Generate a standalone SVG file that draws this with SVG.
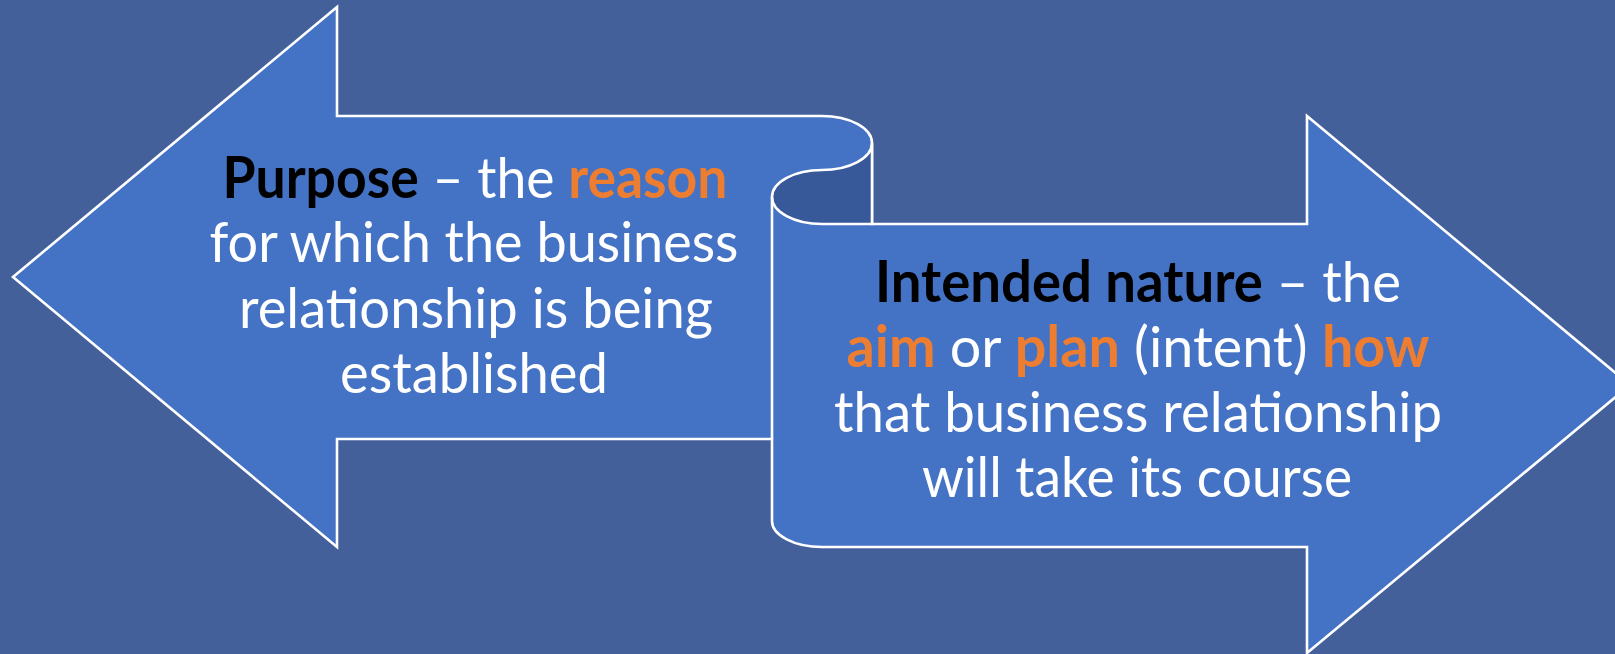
<svg xmlns="http://www.w3.org/2000/svg" width="1615" height="654" viewBox="0 0 1615 654">
<style>
.bg{fill:#44609B}
.shape{fill:#4472C4;stroke:#FFFFFF;stroke-width:2.6;stroke-linejoin:miter}
.fold{fill:#37599A;stroke:#FFFFFF;stroke-width:2.6}
.line{fill:none;stroke:#FFFFFF;stroke-width:2.6}
.t{font-family:Lato,"Open Sans","Liberation Sans",sans-serif;font-size:57px;fill:#FFFFFF;text-anchor:middle}
.k{font-weight:bold;fill:#000000}
.o{font-weight:bold;fill:#ED7D31}
</style>
<rect class="bg" x="0" y="0" width="1615" height="654"/>
<g id="ribbon">
<path class="shape" d="M13,277 L337,7 L337,116 L822,116 A50,27 0 0 1 872,143 L872,224 L1307,224 L1307,116 L1630,385 L1307,653 L1307,547 L822,547 A50,26 0 0 1 772,521 L772,439 L337,439 L337,547 Z"/>
<path class="fold" d="M872,143 A50,27 0 0 1 822,170 A50,27 0 0 0 772,197 A50,27 0 0 0 822,224 L872,224 Z"/>
<path class="line" d="M772,197 L772,439"/>
</g>
<g id="purpose">
<text class="t" x="475" y="198" textLength="505" lengthAdjust="spacingAndGlyphs"><tspan class="k">Purpose</tspan> – the <tspan class="o">reason</tspan></text>
<text class="t" x="474" y="262" textLength="529" lengthAdjust="spacingAndGlyphs">for which the business</text>
<text class="t" x="476" y="328" textLength="474" lengthAdjust="spacingAndGlyphs">relationship is being</text>
<text class="t" x="474" y="393" textLength="268" lengthAdjust="spacingAndGlyphs">established</text>
</g>
<g id="intended">
<text class="t" x="1138" y="302" textLength="526" lengthAdjust="spacingAndGlyphs"><tspan class="k">Intended nature</tspan> – the</text>
<text class="t" x="1138" y="367" textLength="583" lengthAdjust="spacingAndGlyphs"><tspan class="o">aim</tspan> or <tspan class="o">plan</tspan> (intent) <tspan class="o">how</tspan></text>
<text class="t" x="1138" y="432" textLength="608" lengthAdjust="spacingAndGlyphs">that business relationship</text>
<text class="t" x="1137" y="497" textLength="430" lengthAdjust="spacingAndGlyphs">will take its course</text>
</g>
</svg>
